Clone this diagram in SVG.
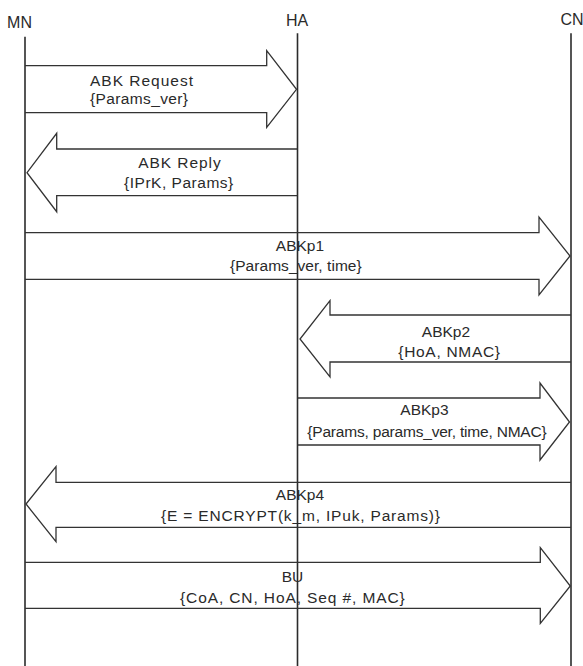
<svg xmlns="http://www.w3.org/2000/svg" width="583" height="666" viewBox="0 0 583 666">
<style>
  .bg { fill: #ffffff; }
  .life { stroke: #2b2b2b; stroke-width: 1.6; fill: none; }
  .arrow { stroke: #333333; stroke-width: 1.3; fill: none; stroke-linejoin: miter; }
  .t { font-family: "Liberation Sans", Arial, sans-serif; font-size: 15.5px; fill: #2a2a2a; }
  .c { text-anchor: middle; }
  .h { font-family: "Liberation Sans", Arial, sans-serif; font-size: 16px; fill: #2a2a2a; text-anchor: middle; }
</style>
<rect class="bg" x="0" y="0" width="583" height="666"/>

<g id="node-MN">
  <text class="h" x="19.5" y="28">MN</text>
  <line class="life" x1="25" y1="36.7" x2="25" y2="666"/>
</g>
<g id="node-HA">
  <text class="h" x="297" y="26">HA</text>
  <line class="life" x1="297.5" y1="33.3" x2="297.5" y2="666"/>
</g>
<g id="node-CN">
  <text class="h" x="572" y="25">CN</text>
  <line class="life" x1="571" y1="33.3" x2="571" y2="666"/>
</g>

<g id="connectors">
  <g id="msg-abk-request">
    <path class="arrow" d="M25,65.7 H266.7 V50.7 L296.5,89.3 L266.7,127.3 V112.7 H25"/>
    <text class="t" x="90" y="86" textLength="103">ABK Request</text>
    <text class="t" x="90" y="104" textLength="98">{Params_ver}</text>
  </g>
  <g id="msg-abk-reply">
    <path class="arrow" d="M297.5,149 H56.7 V133.3 L27,172.7 L56.7,211.7 V195.7 H297.5"/>
    <text class="t" x="138.3" y="168.3" textLength="82.4">ABK Reply</text>
    <text class="t" x="124" y="188.3" textLength="109.3">{IPrK, Params}</text>
  </g>
  <g id="msg-abkp1">
    <path class="arrow" d="M25,232.7 H539 V217 L570,256 L539,295 V279.3 H25"/>
    <text class="t c" x="300" y="251">ABKp1</text>
    <text class="t" x="230" y="271" textLength="131.7">{Params_ver, time}</text>
  </g>
  <g id="msg-abkp2">
    <path class="arrow" d="M571,315 H330 V300.7 L300,339 L330,377 V362 H571"/>
    <text class="t c" x="446" y="336.7">ABKp2</text>
    <text class="t" x="398.3" y="356.7" textLength="101.7">{HoA, NMAC}</text>
  </g>
  <g id="msg-abkp3">
    <path class="arrow" d="M297.5,398 H540 V383 L569.5,422 L540,460 V445 H297.5"/>
    <text class="t c" x="424.5" y="415">ABKp3</text>
    <text class="t" x="307.3" y="436.7" textLength="239.4">{Params, params_ver, time, NMAC}</text>
  </g>
  <g id="msg-abkp4">
    <path class="arrow" d="M571,482.3 H56 V466.7 L26,504 L56,541.7 V527.3 H571"/>
    <text class="t c" x="300" y="500">ABKp4</text>
    <text class="t" x="161" y="520.7" textLength="279">{E = ENCRYPT(k_m, IPuk, Params)}</text>
  </g>
  <g id="msg-bu">
    <path class="arrow" d="M25,562.4 H540.3 V547.7 L570.3,586 L540.3,623.3 V608.4 H25"/>
    <text class="t c" x="292.5" y="582.3">BU</text>
    <text class="t" x="180" y="603.3" textLength="224.7">{CoA, CN, HoA, Seq #, MAC}</text>
  </g>
</g>
</svg>
